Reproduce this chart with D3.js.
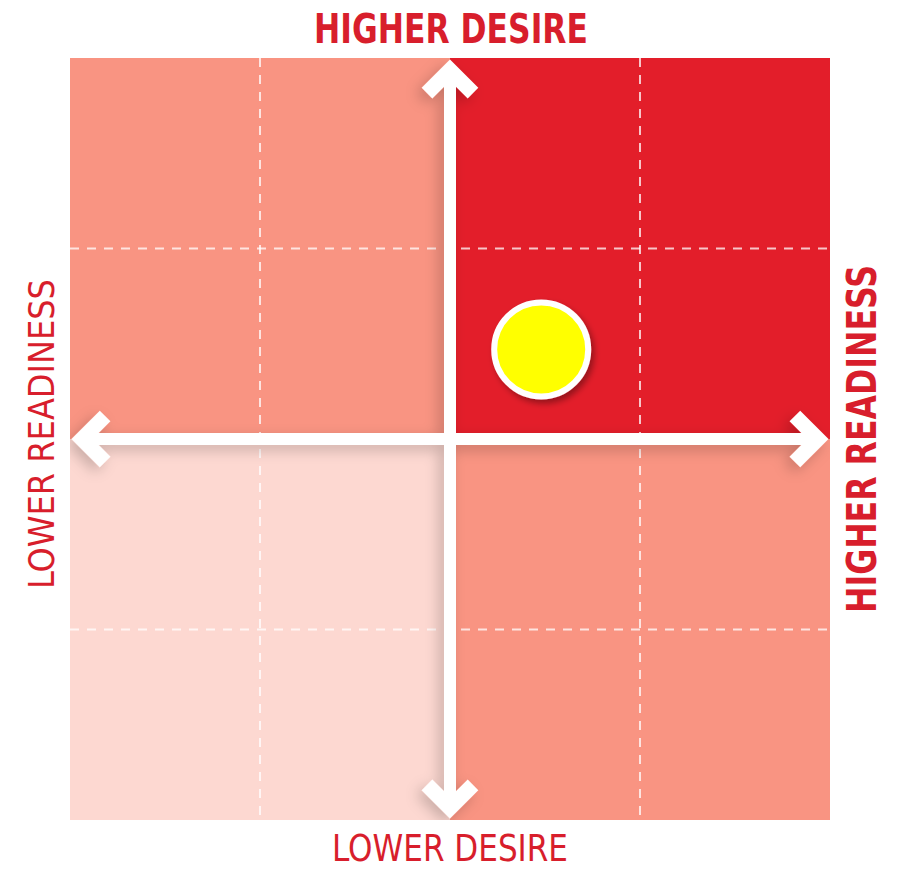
<!DOCTYPE html>
<html>
<head>
<meta charset="utf-8">
<script src="https://cdn.jsdelivr.net/npm/d3@7"></script>
<style>
  html, body { margin: 0; padding: 0; background: #ffffff; }
  svg { display: block; }
</style>
</head>
<body>
<div id="chart"></div>
<script>
// ---------- data ----------
const readinessTicks = [-2, -1, 0, 1, 2];
const desireTicks = [-2, -1, 0, 1, 2];
const quadrantNames = ["Lower readiness / Higher desire", "Higher readiness / Higher desire",
                       "Lower readiness / Lower desire", "Higher readiness / Lower desire"];
const quadrantReadiness = [[-2, 0], [0, 2], [-2, 0], [0, 2]];
const quadrantDesire = [[0, 2], [0, 2], [-2, 0], [-2, 0]];
const quadrantLevel = ["medium", "high", "low", "medium"];
const pointReadiness = [0.48];
const pointDesire = [0.47];
const axisLabels = ["HIGHER DESIRE", "LOWER DESIRE", "LOWER READINESS", "HIGHER READINESS"];

// ---------- styles ----------
const W = 897, H = 872;
const levelColor = { high: "#e31e2a", medium: "#f99482", low: "#fdd8d1" };
const textRed = "#d81e2c";
const condensed = "'DejaVu Sans Condensed', 'Liberation Sans Narrow', 'Arial Narrow', sans-serif";

const svg = d3.select("#chart").append("svg")
  .attr("width", W).attr("height", H);

const x = d3.scaleLinear().domain([-2, 2]).range([70, 830]);
const y = d3.scaleLinear().domain([-2, 2]).range([820, 58]);

const defs = svg.append("defs");
const sh = defs.append("filter").attr("id", "axisShadow")
  .attr("x", "-50%").attr("y", "-50%").attr("width", "200%").attr("height", "200%");
sh.append("feDropShadow").attr("dx", -5).attr("dy", 5).attr("stdDeviation", 7)
  .attr("flood-color", "#000").attr("flood-opacity", 0.2);
const sh2 = defs.append("filter").attr("id", "dotShadow")
  .attr("x", "-50%").attr("y", "-50%").attr("width", "200%").attr("height", "200%");
sh2.append("feDropShadow").attr("dx", 3).attr("dy", 4).attr("stdDeviation", 3)
  .attr("flood-color", "#000").attr("flood-opacity", 0.35);
defs.append("clipPath").attr("id", "plotClip").append("rect")
  .attr("x", x(-2)).attr("y", y(2))
  .attr("width", x(2) - x(-2)).attr("height", y(-2) - y(2));

// quadrants
svg.append("g").selectAll("rect").data(quadrantNames).join("rect")
  .attr("x", (d, i) => x(quadrantReadiness[i][0]))
  .attr("y", (d, i) => y(quadrantDesire[i][1]))
  .attr("width", (d, i) => x(quadrantReadiness[i][1]) - x(quadrantReadiness[i][0]))
  .attr("height", (d, i) => y(quadrantDesire[i][0]) - y(quadrantDesire[i][1]))
  .attr("fill", (d, i) => levelColor[quadrantLevel[i]]);

// dashed grid lines
const grid = svg.append("g").attr("stroke", "#ffffff").attr("stroke-opacity", 0.75)
  .attr("stroke-width", 2).attr("stroke-dasharray", "9,8");
grid.selectAll("line.v").data(readinessTicks.filter(t => t !== 0 && Math.abs(t) !== 2)).join("line")
  .attr("class", "v")
  .attr("x1", d => x(d)).attr("x2", d => x(d))
  .attr("y1", y(2)).attr("y2", y(-2));
grid.selectAll("line.h").data(desireTicks.filter(t => t !== 0 && Math.abs(t) !== 2)).join("line")
  .attr("class", "h")
  .attr("y1", d => y(d)).attr("y2", d => y(d))
  .attr("x1", x(-2)).attr("x2", x(2));

// axes with arrows
const sw = 12, hw = 15, inset = hw / 2 * Math.SQRT2 + 1.5, arm = 23;
const cx0 = x(0), cy0 = y(0);
const tipTop = y(2) + inset, tipBottom = y(-2) - inset, tipLeft = x(-2) + inset, tipRight = x(2) - inset;
const shaft = d3.path();
shaft.moveTo(cx0, tipTop); shaft.lineTo(cx0, tipBottom);
shaft.moveTo(tipLeft, cy0); shaft.lineTo(tipRight, cy0);
const heads = d3.path();
heads.moveTo(cx0 - arm, tipTop + arm); heads.lineTo(cx0, tipTop); heads.lineTo(cx0 + arm, tipTop + arm);
heads.moveTo(cx0 - arm, tipBottom - arm); heads.lineTo(cx0, tipBottom); heads.lineTo(cx0 + arm, tipBottom - arm);
heads.moveTo(tipLeft + arm, cy0 - arm); heads.lineTo(tipLeft, cy0); heads.lineTo(tipLeft + arm, cy0 + arm);
heads.moveTo(tipRight - arm, cy0 - arm); heads.lineTo(tipRight, cy0); heads.lineTo(tipRight - arm, cy0 + arm);

const axesG = svg.append("g").attr("clip-path", "url(#plotClip)")
  .append("g").attr("filter", "url(#axisShadow)")
  .attr("fill", "none").attr("stroke", "#ffffff")
  .attr("stroke-linejoin", "miter").attr("stroke-linecap", "butt");
axesG.append("path").attr("d", shaft.toString()).attr("stroke-width", sw);
axesG.append("path").attr("d", heads.toString()).attr("stroke-width", hw);

// point
svg.append("g").selectAll("circle").data(pointReadiness).join("circle")
  .attr("cx", (d) => x(d))
  .attr("cy", (d, i) => y(pointDesire[i]))
  .attr("r", 47)
  .attr("fill", "#ffff00").attr("stroke", "#ffffff").attr("stroke-width", 6)
  .attr("filter", "url(#dotShadow)");

// labels
const lab = svg.append("g").attr("fill", textRed).attr("font-family", condensed);
lab.append("text").text(axisLabels[0])
  .attr("x", cx0 + 1).attr("y", 43).attr("text-anchor", "middle")
  .attr("font-size", 40).attr("font-weight", "bold")
  .attr("textLength", 274).attr("lengthAdjust", "spacingAndGlyphs");
lab.append("text").text(axisLabels[1])
  .attr("x", cx0).attr("y", 861).attr("text-anchor", "middle")
  .attr("font-size", 37).attr("font-weight", "normal")
  .attr("textLength", 236).attr("lengthAdjust", "spacingAndGlyphs");
lab.append("text").text(axisLabels[2])
  .attr("transform", `translate(54,${cy0 - 5}) rotate(-90)`)
  .attr("text-anchor", "middle")
  .attr("font-size", 35).attr("font-weight", "normal")
  .attr("textLength", 310).attr("lengthAdjust", "spacingAndGlyphs");
lab.append("text").text(axisLabels[3])
  .attr("transform", `translate(876,${cy0}) rotate(-90)`)
  .attr("text-anchor", "middle")
  .attr("font-size", 40).attr("font-weight", "bold")
  .attr("textLength", 348).attr("lengthAdjust", "spacingAndGlyphs");
</script>
</body>
</html>
